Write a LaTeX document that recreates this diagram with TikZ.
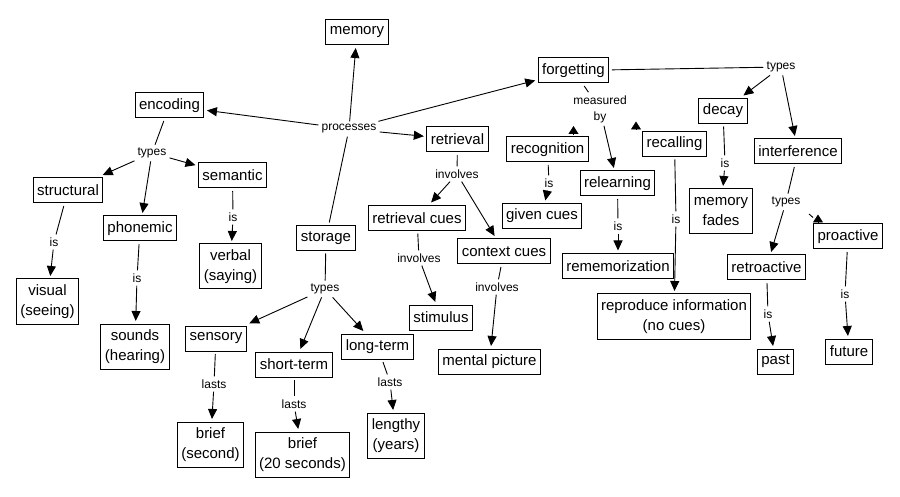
\documentclass[tikz,border=0pt]{standalone}
\usepackage{fontspec}
\setmainfont{Liberation Sans}
\usetikzlibrary{arrows.meta}
\begin{document}
\begin{tikzpicture}[x=1pt,y=-1pt,
 box/.style={draw, line width=1pt, font=\fontsize{15}{19.5}\selectfont, inner xsep=4pt, inner ysep=2pt, minimum height=25pt, outer sep=3pt, align=center},
 two/.style={minimum height=45pt},
 lbl/.style={font=\fontsize{12}{16}\selectfont, inner sep=3pt, align=center},
 ln/.style={line width=0.9pt},
 arr/.style={line width=0.9pt, -{Triangle[length=10pt,width=9pt]}},
 arrS/.style={line width=0.9pt, -{Triangle[length=8pt,width=10pt]}}]
\useasboundingbox[fill=white] (0,0) rectangle (900,497);

% concept boxes
\node[box] (memory) at (357,32.5) {memory};
\node[box] (encoding) at (169.5,105.5) {encoding};
\node[box] (structural) at (68,190.5) {structural};
\node[box] (semantic) at (232.5,175.5) {semantic};
\node[box] (phonemic) at (140,228.5) {phonemic};
\node[box,two] (visual) at (47.5,301.5) {visual\\(seeing)};
\node[box,two] (sounds) at (135,346.5) {sounds\\(hearing)};
\node[box,two] (verbal) at (230.5,266.5) {verbal\\(saying)};
\node[box] (storage) at (326,238) {storage};
\node[box] (sensory) at (216,338.5) {sensory};
\node[box] (shortterm) at (294,364.5) {short-term};
\node[box] (longterm) at (377.5,346.5) {long-term};
\node[box,two] (brief1) at (210.5,444.5) {brief\\(second)};
\node[box,two] (brief2) at (302.5,454.5) {brief\\(20 seconds)};
\node[box,two] (lengthy) at (396,435.5) {lengthy\\(years)};
\node[box] (retrieval) at (457.5,139.5) {retrieval};
\node[box] (retcues) at (417,218) {retrieval cues};
\node[box] (context) at (504,251.5) {context cues};
\node[box] (stimulus) at (441,317.5) {stimulus};
\node[box] (mental) at (489.5,361.5) {mental picture};
\node[box] (forgetting) at (573.5,70.5) {forgetting};
\node[box] (recognition) at (547.5,149.5) {recognition};
\node[box] (given) at (542,216) {given cues};
\node[box] (relearning) at (617.5,183.5) {relearning};
\node[box] (remem) at (618,266) {rememorization};
\node[box] (recalling) at (674.5,144) {recalling};
\node[box,two] (reproduce) at (674,316.5) {reproduce information\\(no cues)};
\node[box] (decay) at (723,111) {decay};
\node[box,two] (fades) at (721,211.5) {memory\\fades};
\node[box] (interference) at (798,151.5) {interference};
\node[box] (retroactive) at (766.5,267.5) {retroactive};
\node[box] (proactive) at (848,236.5) {proactive};
\node[box] (past) at (775.5,361.5) {past};
\node[box] (future) at (849,351.5) {future};

% linking phrases
\node[lbl] (processes) at (349,129) {processes};
\node[lbl] (typesE) at (152,153) {types};
\node[lbl] (isS) at (54,242) {is};
\node[lbl] (isP) at (137,278) {is};
\node[lbl] (isSem) at (233,217) {is};
\node[lbl] (typesSt) at (325,289) {types};
\node[lbl] (lastsA) at (214,384) {lasts};
\node[lbl] (lastsB) at (294,404) {lasts};
\node[lbl] (lastsC) at (390,382) {lasts};
\node[lbl] (invR) at (457,174) {involves};
\node[lbl] (invRC) at (419,258) {involves};
\node[lbl] (invCC) at (497,287) {involves};
\node[lbl] (measured) at (600,109) {measured\\by};
\node[lbl] (isRec) at (549,183) {is};
\node[lbl] (isRel) at (618,226) {is};
\node[lbl] (isRecall) at (676,219) {is};
\node[lbl] (typesF) at (781,67) {types};
\node[lbl] (isDecay) at (725,163) {is};
\node[lbl] (typesI) at (786,202) {types};
\node[lbl] (isRetro) at (768,314) {is};
\node[lbl] (isPro) at (845,294) {is};

% free ends of the collapsed connectors
\coordinate (rgA) at (573.5,134);
\coordinate (rgB) at (573.5,126);
\coordinate (rcA) at (636,129.5);
\coordinate (rcB) at (636,121.5);
\coordinate (pA) at (809,214);
\coordinate (pB) at (813,217.5);
\coordinate (pC) at (818,222.5);
\coordinate (pD) at (818,214.5);

% connectors
\draw[ln] (storage) -- (processes);
\draw[arr] (processes) -- (memory);
\draw[arr] (processes) -- (encoding);
\draw[arr] (processes) -- (retrieval);
\draw[arr] (processes) -- (forgetting);

\draw[ln] (encoding) -- (typesE);
\draw[arr] (typesE) -- (structural);
\draw[arr] (typesE) -- (phonemic);
\draw[arr] (typesE) -- (semantic);
\draw[ln] (structural) -- (isS);
\draw[arr] (isS) -- (visual);
\draw[ln] (phonemic) -- (isP);
\draw[arr] (isP) -- (sounds);
\draw[ln] (semantic) -- (isSem);
\draw[arr] (isSem) -- (verbal);

\draw[ln] (storage) -- (typesSt);
\draw[arr] (typesSt) -- (sensory);
\draw[arr] (typesSt) -- (shortterm);
\draw[arr] (typesSt) -- (longterm);
\draw[ln] (sensory) -- (lastsA);
\draw[arr] (lastsA) -- (brief1);
\draw[ln] (shortterm) -- (lastsB);
\draw[arr] (lastsB) -- (brief2);
\draw[ln] (longterm) -- (lastsC);
\draw[arr] (lastsC) -- (lengthy);

\draw[ln] (retrieval) -- (invR);
\draw[arr] (invR) -- (retcues);
\draw[arr] (invR) -- (context);
\draw[ln] (retcues) -- (invRC);
\draw[arr] (invRC) -- (stimulus);
\draw[ln] (context) -- (invCC);
\draw[arr] (invCC) -- (mental);

\draw[ln] (forgetting) -- (measured);
\draw[arr] (measured) -- (relearning);
\draw[arrS] (rgA) -- (rgB);
\draw[arrS] (rcA) -- (rcB);
\draw[ln] (recognition) -- (isRec);
\draw[arr] (isRec) -- (given);
\draw[ln] (relearning) -- (isRel);
\draw[arr] (isRel) -- (remem);
\draw[ln] (recalling) -- (isRecall);
\draw[arr] (isRecall) -- (reproduce);

\draw[ln] (forgetting) -- (typesF);
\draw[arr] (typesF) -- (decay);
\draw[arr] (typesF) -- (interference);
\draw[ln] (decay) -- (isDecay);
\draw[arr] (isDecay) -- (fades);
\draw[ln] (interference) -- (typesI);
\draw[arr] (typesI) -- (retroactive);
\draw[ln] (pA) -- (pB);
\draw[arrS] (pC) -- (pD);
\draw[ln] (retroactive) -- (isRetro);
\draw[arr] (isRetro) -- (past);
\draw[ln] (proactive) -- (isPro);
\draw[arr] (isPro) -- (future);
\end{tikzpicture}
\end{document}
